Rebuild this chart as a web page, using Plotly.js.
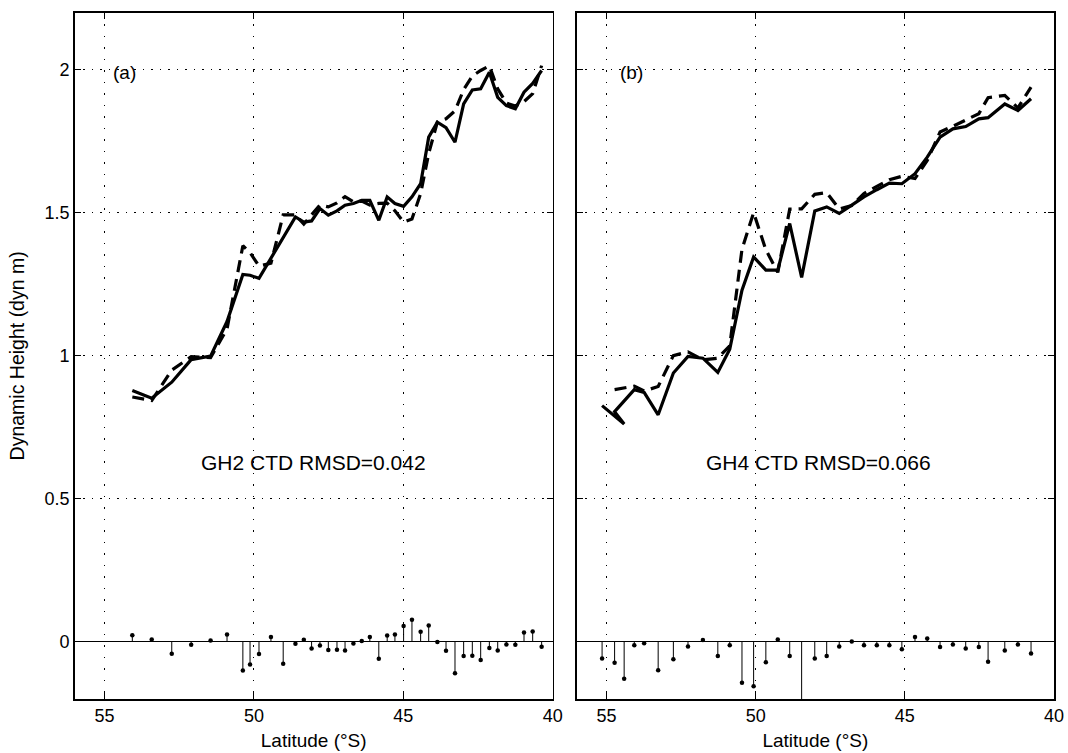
<!DOCTYPE html>
<html><head><meta charset="utf-8">
<script src="https://cdn.plot.ly/plotly-3.0.1.min.js"></script>
<style>html,body{margin:0;padding:0;background:#fff}#chart{width:1068px;height:753px}</style>
</head><body><div id="chart"></div><script>
// ---- Panel (a): GH2 vs CTD ----
const latA = [54.07, 53.42, 52.75, 52.10, 51.45, 50.90, 50.37, 50.13, 49.83, 49.43, 49.02, 48.61, 48.33, 48.07, 47.79, 47.51, 47.22, 46.95, 46.67, 46.39, 46.12, 45.82, 45.54, 45.28, 44.99, 44.71, 44.42, 44.15, 43.86, 43.57, 43.27, 42.98, 42.69, 42.41, 42.12, 41.84, 41.55, 41.25, 40.96, 40.67, 40.37];
const gh2 = [0.879, 0.852, 0.908, 0.987, 0.999, 1.120, 1.285, 1.282, 1.271, 1.341, 1.416, 1.486, 1.468, 1.472, 1.515, 1.492, 1.507, 1.527, 1.533, 1.544, 1.544, 1.474, 1.556, 1.533, 1.523, 1.556, 1.602, 1.765, 1.817, 1.798, 1.747, 1.881, 1.930, 1.934, 1.992, 1.904, 1.875, 1.864, 1.922, 1.953, 1.998];
const ctdA = [0.856, 0.844, 0.950, 0.997, 0.994, 1.094, 1.385, 1.361, 1.314, 1.324, 1.493, 1.493, 1.461, 1.495, 1.528, 1.521, 1.535, 1.557, 1.539, 1.541, 1.527, 1.533, 1.534, 1.507, 1.468, 1.479, 1.567, 1.708, 1.818, 1.829, 1.857, 1.931, 1.979, 1.998, 2.014, 1.934, 1.884, 1.874, 1.889, 1.917, 2.015];
const diffA = [0.023, 0.008, -0.042, -0.010, 0.005, 0.026, -0.100, -0.079, -0.043, 0.017, -0.077, -0.007, 0.007, -0.023, -0.013, -0.029, -0.028, -0.030, -0.006, 0.003, 0.017, -0.059, 0.022, 0.026, 0.055, 0.077, 0.035, 0.057, -0.001, -0.031, -0.110, -0.050, -0.049, -0.064, -0.022, -0.030, -0.009, -0.010, 0.033, 0.036, -0.017];

// ---- Panel (b): GH4 vs CTD (track order) ----
const latB = [55.15, 54.41, 54.73, 54.07, 53.74, 53.27, 52.76, 52.27, 51.77, 51.27, 50.87, 50.46, 50.07, 49.66, 49.26, 48.86, 48.46, 48.02, 47.62, 47.20, 46.78, 46.37, 45.94, 45.52, 45.10, 44.66, 44.25, 43.82, 43.39, 42.96, 42.52, 42.21, 41.65, 41.21, 40.77];
const gh4 = [0.826, 0.762, 0.805, 0.882, 0.872, 0.794, 0.940, 0.998, 0.992, 0.942, 1.023, 1.230, 1.346, 1.300, 1.300, 1.463, 1.274, 1.507, 1.521, 1.498, 1.527, 1.556, 1.581, 1.604, 1.602, 1.637, 1.695, 1.765, 1.794, 1.802, 1.829, 1.833, 1.881, 1.858, 1.899];
const ctdB = [null, null, 0.882, 0.894, 0.877, 0.893, 1.001, 1.014, 0.986, 0.992, 1.035, 1.373, 1.501, 1.371, 1.292, 1.513, 1.514, 1.565, 1.571, 1.514, 1.526, 1.568, 1.593, 1.616, 1.628, 1.620, 1.683, 1.783, 1.803, 1.825, 1.847, 1.903, 1.911, 1.867, 1.940];
const diffB = [-0.058, -0.129, -0.073, -0.012, -0.005, -0.099, -0.061, -0.016, 0.006, -0.050, -0.012, -0.143, -0.155, -0.071, 0.008, -0.050, -0.240, -0.058, -0.050, -0.016, 0.001, -0.012, -0.012, -0.012, -0.026, 0.017, 0.012, -0.018, -0.009, -0.023, -0.018, -0.070, -0.030, -0.009, -0.041];

const xTickVals = [55, 50, 45, 40];
const xTickText = ['55', '50', '45', '40'];
const yTickVals = [0, 0.5, 1, 1.5, 2];
const yTickText = ['0', '0.5', '1', '1.5', '2'];
const panelLabels = ['(a)', '(b)'];
const rmsdLabels = ['GH2 CTD RMSD=0.042', 'GH4 CTD RMSD=0.066'];
const xTitle = 'Latitude (°S)';
const yTitle = 'Dynamic Height (dyn m)';

const FONT = 'Liberation Sans, Arial, Helvetica, sans-serif';

function stems(lat, d, xa, ya) {
  const xs = [], ys = [];
  lat.forEach((v, i) => { xs.push(v, v, null); ys.push(0, d[i], null); });
  return [
    {x: xs, y: ys, xaxis: xa, yaxis: ya, mode: 'lines', type: 'scatter',
     line: {color: '#000', width: 1}, hoverinfo: 'skip', showlegend: false},
    {x: lat, y: d, xaxis: xa, yaxis: ya, mode: 'markers', type: 'scatter',
     marker: {color: '#000', size: 4.5}, showlegend: false}
  ];
}

function lines(lat, gh, ctd, xa, ya) {
  return [
    {x: lat, y: ctd, xaxis: xa, yaxis: ya, mode: 'lines', type: 'scatter',
     line: {color: '#000', width: 3.2, dash: '12px,7px'}, showlegend: false},
    {x: lat, y: gh, xaxis: xa, yaxis: ya, mode: 'lines', type: 'scatter',
     line: {color: '#000', width: 3.2}, showlegend: false}
  ];
}

const data = [
  ...stems(latA, diffA, 'x', 'y'),
  ...lines(latA, gh2, ctdA, 'x', 'y'),
  ...stems(latB, diffB, 'x2', 'y2'),
  ...lines(latB, gh4, ctdB, 'x2', 'y2')
];

function xax(domain, anchor) {
  return {
    domain: domain, anchor: anchor, range: [56, 40],
    tickmode: 'array', tickvals: xTickVals, ticktext: xTickText,
    ticks: 'inside', ticklen: 6, tickwidth: 1, tickcolor: '#000',
    showline: true, linecolor: '#000', linewidth: 1.5, mirror: 'ticks',
    showgrid: true, gridcolor: '#000', gridwidth: 1, griddash: '1.5px,10px',
    zeroline: false,
    tickfont: {family: FONT, size: 18, color: '#000'},
    title: {text: xTitle, font: {family: FONT, size: 19, color: '#000'}, standoff: 8}
  };
}
function yax(anchor, labels) {
  const o = {
    domain: [0.0717, 0.9831], anchor: anchor, range: [-0.2, 2.2],
    tickmode: 'array', tickvals: yTickVals, ticktext: yTickText,
    showticklabels: labels,
    ticks: 'inside', ticklen: 6, tickwidth: 1, tickcolor: '#000',
    showline: true, linecolor: '#000', linewidth: 1.5, mirror: 'ticks',
    showgrid: true, gridcolor: '#000', gridwidth: 1, griddash: '1.5px,7px',
    zeroline: true, zerolinecolor: '#000', zerolinewidth: 1,
    tickfont: {family: FONT, size: 18, color: '#000'}
  };
  if (labels) o.title = {text: yTitle, font: {family: FONT, size: 19.5, color: '#000'}, standoff: 14};
  return o;
}

const annFont = {family: FONT, size: 19, color: '#000'};
const rmsdFont = {family: FONT, size: 21, color: '#000'};
const layout = {
  width: 1068, height: 753,
  margin: {l: 0, r: 0, t: 0, b: 0},
  paper_bgcolor: '#fff', plot_bgcolor: '#fff',
  showlegend: false,
  xaxis: xax([0.0699, 0.5175], 'y'),
  yaxis: yax('x', true),
  xaxis2: xax([0.540, 0.9869], 'y2'),
  yaxis2: yax('x2', false),
  annotations: [
    {xref: 'x', yref: 'y', x: 54.78, y: 1.99, text: panelLabels[0], showarrow: false, xanchor: 'left', yanchor: 'middle', font: annFont},
    {xref: 'x2', yref: 'y2', x: 54.6, y: 1.99, text: panelLabels[1], showarrow: false, xanchor: 'left', yanchor: 'middle', font: annFont},
    {xref: 'x', yref: 'y', x: 48.02, y: 0.627, text: rmsdLabels[0], showarrow: false, xanchor: 'center', yanchor: 'middle', font: rmsdFont},
    {xref: 'x2', yref: 'y2', x: 47.91, y: 0.627, text: rmsdLabels[1], showarrow: false, xanchor: 'center', yanchor: 'middle', font: rmsdFont}
  ]
};

Plotly.newPlot('chart', data, layout, {displayModeBar: false, staticPlot: true});
</script></body></html>
